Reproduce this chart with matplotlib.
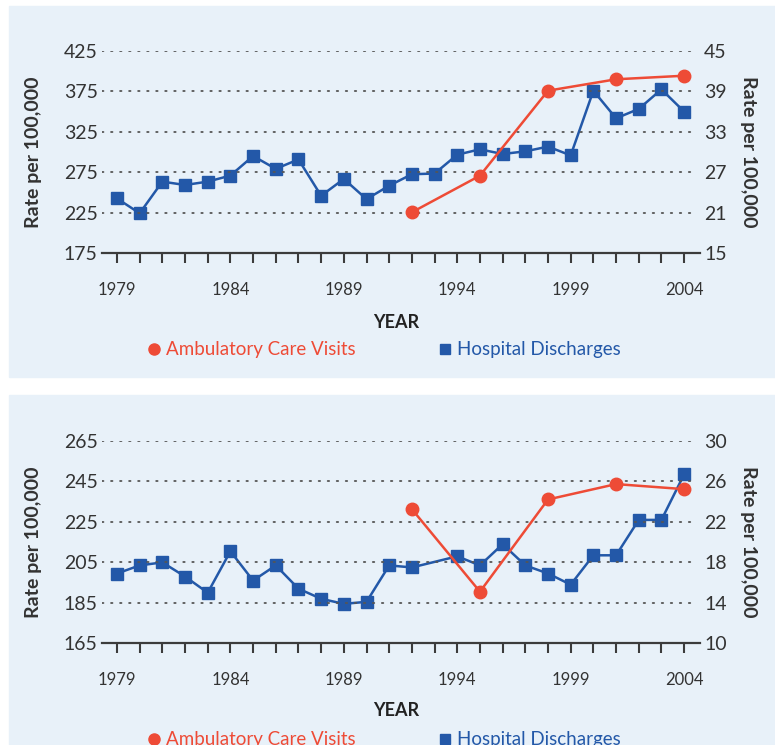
import numpy as np
import matplotlib
matplotlib.use('Agg')
import matplotlib.pyplot as plt
from matplotlib.patches import Rectangle
from matplotlib.lines import Line2D

plt.rcParams['font.family'] = ['Lato', 'DejaVu Sans']

# Data
years = list(range(1979, 2005))
amb_years = [1992, 1995, 1998, 2001, 2004]

# top panel
top_hosp = [23.1, 20.9, 25.6, 25.1, 25.6, 26.5, 29.4, 27.5, 28.9, 23.5, 26.0, 23.0, 25.0,
            26.7, 26.8, 29.6, 30.4, 29.7, 30.1, 30.8, 29.5, 39.1, 35.0, 36.4, 39.3, 36.0]
top_amb = [225.4, 270.7, 375.9, 390.0, 394.4]
top_left_ticks = [175, 225, 275, 325, 375, 425]
top_right_ticks = [15, 21, 27, 33, 39, 45]

# bottom panel (no hospital point for 1993)
bot_hosp_years = [y for y in years if y != 1993]
bot_hosp = [16.9, 17.7, 18.0, 16.6, 15.0, 19.1, 16.2, 17.7, 15.4, 14.4, 13.9, 14.1, 17.7,
            17.5, 18.6, 17.7, 19.8, 17.7, 16.9, 15.8, 18.7, 18.7, 22.2, 22.2, 26.7]
bot_amb = [231.3, 190.5, 236.1, 243.7, 241.2]
bot_left_ticks = [165, 185, 205, 225, 245, 265]
bot_right_ticks = [10, 14, 18, 22, 26, 30]

RED = '#ee4b36'
BLUE = '#2358a8'
BG = '#e8f1f9'
TXT = '#333333'

W, H = 775, 745
fig = plt.figure(figsize=(W / 100, H / 100), dpi=100)


def fx(px):
    return px / W


def fy(py):
    return 1 - py / H


# panel backgrounds
fig.patches.append(Rectangle((fx(9), fy(377)), fx(766), (377 - 6) / H,
                             transform=fig.transFigure, color=BG, zorder=-5))
fig.patches.append(Rectangle((fx(9), 0), fx(766), (745 - 395) / H,
                             transform=fig.transFigure, color=BG, zorder=-5))


def panel(axis_y, top_y, amb, hosp_years, hosp, lticks, rticks):
    ax = fig.add_axes([fx(102), fy(axis_y), fx(700 - 102), (axis_y - top_y) / H])
    ax.set_facecolor('none')
    ax2 = ax.twinx()
    ax2.set_facecolor('none')
    ax.set_xlim(1978.34, 2004.7)
    ax.set_ylim(lticks[0], lticks[-1])
    ax2.set_ylim(rticks[0], rticks[-1])

    for a in (ax, ax2):
        for s in ['top', 'left', 'right']:
            a.spines[s].set_visible(False)
    ax2.spines['bottom'].set_visible(False)
    ax.spines['bottom'].set_color('#3c3c3c')
    ax.spines['bottom'].set_linewidth(1.6)

    # dotted gridlines
    for v in lticks[1:]:
        ax.axhline(v, xmin=0.0, xmax=0.99, color='#555555', lw=1.3,
                   ls=(0, (0.8, 4.2)), dash_capstyle='round', zorder=1)

    ax.set_xticks(years)
    ax.set_xticklabels([str(y) if (y - 1979) % 5 == 0 else '' for y in years])
    ax.tick_params(axis='x', direction='out', length=7, width=1.5, color='#3c3c3c',
                   pad=14, labelsize=12, labelcolor=TXT)

    ax.set_yticks(lticks)
    ax.set_yticklabels([str(v) for v in lticks])
    ax.tick_params(axis='y', length=0, pad=3, labelsize=14, labelcolor=TXT)
    ax2.set_yticks(rticks)
    ax2.set_yticklabels([str(v) for v in rticks])
    ax2.tick_params(axis='y', length=0, pad=3, labelsize=14, labelcolor=TXT)

    ax.set_ylabel('Rate per 100,000', fontsize=14, fontweight='bold', color=TXT, labelpad=16)
    ax2.set_ylabel('Rate per 100,000', fontsize=14, fontweight='bold', color=TXT,
                   rotation=-90, labelpad=22)

    ax2.plot(hosp_years, hosp, color=BLUE, lw=1.8, marker='s', ms=8, zorder=3)
    ax.plot(amb_years, amb, color=RED, lw=1.8, marker='o', ms=9, zorder=4)
    ax.set_zorder(ax2.get_zorder() + 1)
    return ax


panel(253, 51, top_amb, years, top_hosp, top_left_ticks, top_right_ticks)
panel(643.3, 441, bot_amb, bot_hosp_years, bot_hosp, bot_left_ticks, bot_right_ticks)


def legend_block(year_y, leg_y):
    fig.text(fx(396), fy(year_y), 'YEAR', ha='center', va='center', fontsize=13,
             fontweight='bold', color='#222222')
    handles = [Line2D([], [], ls='none', marker='o', ms=8, color=RED),
               Line2D([], [], ls='none', marker='s', ms=7, color=BLUE)]
    leg = fig.legend(handles, ['Ambulatory Care Visits', 'Hospital Discharges'],
                     loc='center', bbox_to_anchor=(fx(384), fy(leg_y)), ncol=2,
                     frameon=False, fontsize=13.5, handletextpad=0.3, handlelength=0.7,
                     columnspacing=4.4)
    for t, c in zip(leg.get_texts(), [RED, BLUE]):
        t.set_color(c)


legend_block(322, 350)
legend_block(710, 740)

fig.savefig('out.png', dpi=100)
